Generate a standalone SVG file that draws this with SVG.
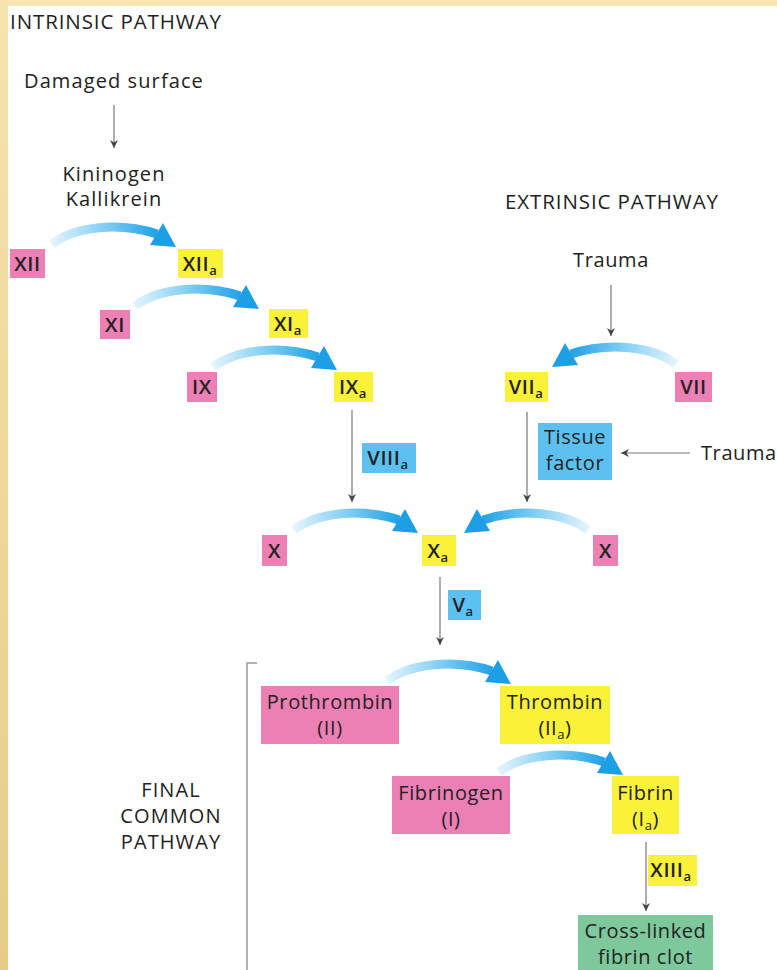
<svg xmlns="http://www.w3.org/2000/svg" xmlns:xlink="http://www.w3.org/1999/xlink" width="777" height="970" viewBox="0 0 777 970">
<style>
text{font-family:"Open Sans","Liberation Sans",sans-serif;fill:#222;}
.t{font-size:20.5px;letter-spacing:0.9px;}
.b{font-size:20px;text-anchor:middle;letter-spacing:0.6px;}
.w{letter-spacing:1.1px;}
.n{font-weight:600;font-size:20px;}
.s{font-size:13px;}
.pink{fill:#ec7fb3;}
.yel{fill:#faf139;}
.blue{fill:#5cc1f1;}
.green{fill:#7dc99b;}
.ln{stroke:#777;stroke-width:1.2;fill:none;marker-end:url(#ah);}
</style>
<defs>
<linearGradient id="bord" x1="0" y1="0" x2="0" y2="1">
<stop offset="0" stop-color="#f6e4ae"/>
<stop offset="1" stop-color="#e6cc86"/>
</linearGradient>
<linearGradient id="ag" gradientUnits="userSpaceOnUse" x1="0" y1="0" x2="110" y2="0">
<stop offset="0" stop-color="#e8f6fd"/>
<stop offset="0.5" stop-color="#80cef3"/>
<stop offset="1" stop-color="#1c9fe5"/>
</linearGradient>
<marker id="ah" markerUnits="userSpaceOnUse" markerWidth="10" markerHeight="10" refX="8" refY="4" orient="auto">
<path d="M0,0 L8,4 L0,8 L2.5,4 z" fill="#444"/>
</marker>
<g id="arc">
<path d="M2,-2 C25,-20 70,-24 107,-12" fill="none" stroke="url(#ag)" stroke-width="9"/>
<polygon points="100,-1 113,-23 126,1" fill="#1c9fe5"/>
</g>
</defs>
<rect width="777" height="970" fill="#fff"/>
<rect x="0" y="0" width="777" height="6" fill="#f8e6b1"/>
<rect x="0" y="0" width="8" height="970" fill="url(#bord)"/>

<g id="labels">
<text class="t" x="10" y="29">INTRINSIC PATHWAY</text>
<text class="b w" x="114" y="88">Damaged surface</text>
<text class="b w" x="114" y="181">Kininogen</text>
<text class="b w" x="114" y="206">Kallikrein</text>
<text class="t" x="505" y="209">EXTRINSIC PATHWAY</text>
<text class="b" x="611" y="267">Trauma</text>
<text class="b" x="701" y="460" style="text-anchor:start">Trauma</text>
<text class="b w" x="171" y="797">FINAL</text>
<text class="b w" x="171" y="823">COMMON</text>
<text class="b w" x="171" y="849">PATHWAY</text>
</g>

<g id="connectors">
<use href="#arc" transform="translate(50,246)"/>
<use href="#arc" transform="translate(133,308)"/>
<use href="#arc" transform="translate(211,369)"/>
<use href="#arc" transform="translate(678,366) scale(-1,1)"/>
<use href="#arc" transform="translate(292,532)"/>
<use href="#arc" transform="translate(590,532) scale(-1,1)"/>
<use href="#arc" transform="translate(385,683)"/>
<use href="#arc" transform="translate(497,774)"/>
<line class="ln" x1="114" y1="105" x2="114" y2="148"/>
<line class="ln" x1="611" y1="285" x2="611" y2="336"/>
<line class="ln" x1="352" y1="410" x2="352" y2="502"/>
<line class="ln" x1="527" y1="412" x2="527" y2="502"/>
<line class="ln" x1="690" y1="453" x2="621" y2="453"/>
<line class="ln" x1="440" y1="577" x2="440" y2="645"/>
<line class="ln" x1="646" y1="842" x2="646" y2="911"/>
<path d="M257,663 H247 V970" fill="none" stroke="#999" stroke-width="1.5"/>
</g>

<g id="n-XII"><rect class="pink" x="10" y="249" width="35" height="29"/><text class="b n" x="27.5" y="271">XII</text></g>
<g id="n-XIIa"><rect class="yel" x="178" y="249" width="45" height="29"/><text class="b n" x="200" y="271">XII<tspan class="s" dy="4">a</tspan></text></g>
<g id="n-XI"><rect class="pink" x="100" y="310" width="30" height="29"/><text class="b n" x="115" y="332">XI</text></g>
<g id="n-XIa"><rect class="yel" x="269" y="309" width="39" height="29"/><text class="b n" x="288" y="331">XI<tspan class="s" dy="4">a</tspan></text></g>
<g id="n-IX"><rect class="pink" x="187" y="372" width="30" height="30"/><text class="b n" x="202" y="394">IX</text></g>
<g id="n-IXa"><rect class="yel" x="334" y="372" width="39" height="30"/><text class="b n" x="353" y="394">IX<tspan class="s" dy="4">a</tspan></text></g>
<g id="n-VIIa"><rect class="yel" x="505" y="372" width="43" height="30"/><text class="b n" x="526" y="394">VII<tspan class="s" dy="4">a</tspan></text></g>
<g id="n-VII"><rect class="pink" x="675" y="372" width="37" height="30"/><text class="b n" x="693.5" y="394">VII</text></g>
<g id="n-VIIIa"><rect class="blue" x="362" y="443" width="54" height="30"/><text class="b n" x="388" y="465">VIII<tspan class="s" dy="4">a</tspan></text></g>
<g id="n-TF"><rect class="blue" x="538" y="423" width="74" height="57"/><text class="b" x="575" y="444">Tissue</text><text class="b" x="575" y="470">factor</text></g>
<g id="n-XL"><rect class="pink" x="262" y="535" width="25" height="31"/><text class="b n" x="274.5" y="558">X</text></g>
<g id="n-Xa"><rect class="yel" x="422" y="535" width="34" height="31"/><text class="b n" x="438" y="558">X<tspan class="s" dy="4">a</tspan></text></g>
<g id="n-XR"><rect class="pink" x="593" y="535" width="25" height="31"/><text class="b n" x="605.5" y="558">X</text></g>
<g id="n-Va"><rect class="blue" x="448" y="590" width="33" height="30"/><text class="b n" x="463" y="612">V<tspan class="s" dy="4">a</tspan></text></g>
<g id="n-II"><rect class="pink" x="261" y="686" width="138" height="58"/><text class="b" x="330" y="709">Prothrombin</text><text class="b" x="330" y="735">(II)</text></g>
<g id="n-IIa"><rect class="yel" x="500" y="686" width="110" height="58"/><text class="b" x="555" y="709">Thrombin</text><text class="b" x="555" y="735">(II<tspan class="s" dy="4">a</tspan><tspan dy="-4">)</tspan></text></g>
<g id="n-I"><rect class="pink" x="392" y="776" width="118" height="58"/><text class="b" x="451" y="800">Fibrinogen</text><text class="b" x="451" y="826">(I)</text></g>
<g id="n-Ia"><rect class="yel" x="612" y="776" width="67" height="58"/><text class="b" x="645.5" y="800">Fibrin</text><text class="b" x="645.5" y="826">(I<tspan class="s" dy="4">a</tspan><tspan dy="-4">)</tspan></text></g>
<g id="n-XIIIa"><rect class="yel" x="648" y="855" width="49" height="31"/><text class="b n" x="671" y="877">XIII<tspan class="s" dy="4">a</tspan></text></g>
<g id="n-clot"><rect class="green" x="578" y="915" width="135" height="60"/><text class="b" x="645.5" y="938">Cross-linked</text><text class="b" x="645.5" y="964">fibrin clot</text></g>
</svg>
